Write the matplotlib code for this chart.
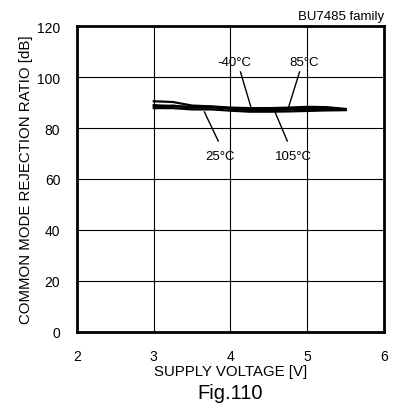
import matplotlib
matplotlib.use("Agg")
import matplotlib.pyplot as plt

plt.rcParams['font.family'] = ['Liberation Sans', 'DejaVu Sans']

# данные
voltage = [3.0, 3.25, 3.5, 3.75, 4.0, 4.25, 4.5, 4.75, 5.0, 5.25, 5.5]
cmrr_m40 = [90.5, 90.2, 88.8, 88.5, 88.0, 87.8, 87.8, 88.0, 88.3, 88.2, 87.5]
cmrr_25 = [89.0, 88.5, 88.3, 88.3, 87.6, 87.0, 87.0, 87.2, 87.3, 87.3, 87.2]
cmrr_85 = [88.5, 88.8, 88.0, 88.0, 87.8, 87.5, 87.5, 87.6, 87.5, 87.5, 87.3]
cmrr_105 = [87.8, 87.8, 87.3, 87.3, 86.8, 86.4, 86.4, 86.5, 86.7, 86.9, 87.0]

# подписи температур: текст, позиция текста, начало и конец выноски
labels = [
    ('-40°C', (4.05, 105.9), (4.13, 102.0), (4.27, 87.8)),
    ('85°C', (4.96, 105.9), (4.90, 102.0), (4.75, 87.5)),
    ('25°C', (3.87, 69.0), (3.84, 74.9), (3.66, 86.3)),
    ('105°C', (4.82, 69.0), (4.74, 74.9), (4.58, 86.3)),
]

fig = plt.figure(figsize=(3.93, 4.10), dpi=100)
ax = fig.add_axes([0.196, 0.188, 0.781, 0.746])

for series in (cmrr_m40, cmrr_25, cmrr_85, cmrr_105):
    ax.plot(voltage, series, color='black', linewidth=1.6)

for text, pos, p0, p1 in labels:
    ax.text(pos[0], pos[1], text, ha='center', va='center', fontsize=9.5)
    ax.plot([p0[0], p1[0]], [p0[1], p1[1]], color='black', linewidth=1)

ax.set_xlim(2, 6)
ax.set_ylim(0, 120)
ax.set_xticks([2, 3, 4, 5, 6])
ax.set_yticks(range(0, 121, 20))
ax.tick_params(length=0, pad=12, labelsize=10)
ax.grid(True, color='black', linewidth=0.8)
for s in ax.spines.values():
    s.set_linewidth(2)

ax.set_xlabel('SUPPLY VOLTAGE [V]', fontsize=10.8, labelpad=1)
ax.set_ylabel('COMMON MODE REJECTION RATIO [dB]', fontsize=10.8, labelpad=3)
ax.set_title('BU7485 family', fontsize=9.5, loc='right', pad=5)

fig.text(0.585, 0.04, 'Fig.110', ha='center', va='center', fontsize=14.5)

fig.savefig('out.png', dpi=100)
